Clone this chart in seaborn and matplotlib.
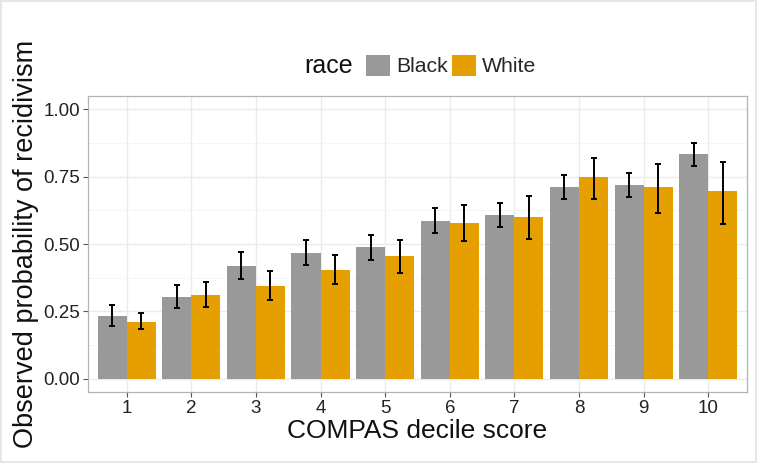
import numpy as np
import pandas as pd
import matplotlib
matplotlib.use("Agg")
import matplotlib.pyplot as plt
import seaborn as sns
from matplotlib.patches import Patch

scores = [1, 2, 3, 4, 5, 6, 7, 8, 9, 10]
black_prob = [0.233, 0.304, 0.420, 0.468, 0.488, 0.586, 0.606, 0.710, 0.719, 0.833]
black_lo = [0.196, 0.262, 0.370, 0.422, 0.441, 0.540, 0.563, 0.665, 0.675, 0.789]
black_hi = [0.274, 0.348, 0.469, 0.515, 0.535, 0.632, 0.652, 0.756, 0.762, 0.873]
white_prob = [0.212, 0.311, 0.343, 0.402, 0.455, 0.579, 0.599, 0.747, 0.710, 0.696]
white_lo = [0.185, 0.268, 0.293, 0.351, 0.394, 0.512, 0.520, 0.665, 0.616, 0.574]
white_hi = [0.243, 0.358, 0.399, 0.458, 0.515, 0.644, 0.678, 0.819, 0.796, 0.802]
races = ["Black", "White"]
colors = {"Black": "#999999", "White": "#E69F00"}

df = pd.DataFrame({
    "score": [str(s) for s in scores] * 2,
    "prob": black_prob + white_prob,
    "lo": black_lo + white_lo,
    "hi": black_hi + white_hi,
    "race": ["Black"] * len(scores) + ["White"] * len(scores),
})

sns.set_theme(style="whitegrid")
plt.rcParams["font.family"] = ["Liberation Sans", "DejaVu Sans"]

fig = plt.figure(figsize=(7.57, 4.63), dpi=100)
ax = fig.add_axes([0.1162, 0.1523, 0.8706, 0.6414])

sns.barplot(data=df, x="score", y="prob", hue="race", hue_order=races,
            palette=colors, saturation=1, width=0.9, gap=0, errorbar=None,
            linewidth=0, ax=ax, legend=False, zorder=2)

# error bars at bar centers
for container, race in zip(ax.containers, races):
    sub = df[df["race"] == race]
    xs = [p.get_x() + p.get_width() / 2 for p in container.patches]
    y = sub["prob"].to_numpy()
    lo = y - sub["lo"].to_numpy()
    hi = sub["hi"].to_numpy() - y
    ax.errorbar(xs, y, yerr=[lo, hi], fmt="none", ecolor="black",
                elinewidth=1.4, capsize=2.4, capthick=1.4, zorder=3)

ax.set_xlim(-0.6, 9.6)
ax.set_ylim(-0.05, 1.05)
ax.set_yticks([0, 0.25, 0.5, 0.75, 1.0])
ax.set_yticklabels(["0.00", "0.25", "0.50", "0.75", "1.00"])
ax.set_yticks([0.125, 0.375, 0.625, 0.875], minor=True)
ax.set_facecolor("white")
ax.grid(True, which="major", color="#EBEBEB", linewidth=1.0, zorder=0)
ax.grid(True, which="minor", axis="y", color="#F4F4F4", linewidth=0.6, zorder=0)
ax.set_axisbelow(True)
for s in ax.spines.values():
    s.set_visible(True)
    s.set_color("#B3B3B3")
    s.set_linewidth(0.9)
ax.tick_params(axis="both", which="major", length=3.5, width=0.8, color="#555555",
               labelsize=13.5, labelcolor="#222222", pad=2, direction="out",
               left=True, bottom=True)
ax.tick_params(axis="y", which="minor", length=0)
ax.set_xlabel("COMPAS decile score", fontsize=19, color="#111111", labelpad=1)
ax.set_ylabel("Observed probability of recidivism", fontsize=19.5, color="#111111", labelpad=3)

handles = [Patch(facecolor=colors[r], edgecolor="none") for r in races]
leg = fig.legend(handles, races, loc="center left", bbox_to_anchor=(0.4835, 0.8585),
                 ncol=2, frameon=False, fontsize=15.3, handlelength=1.12,
                 handleheight=1.16, handletextpad=0.28, columnspacing=0.23,
                 borderaxespad=0, borderpad=0)
fig.text(0.4663, 0.8585, "race", fontsize=18, ha="right", va="center", color="#111111")

fig.patch.set_edgecolor("#E6E6E6")
fig.patch.set_linewidth(1.5)
fig.savefig("out.png", dpi=100)
